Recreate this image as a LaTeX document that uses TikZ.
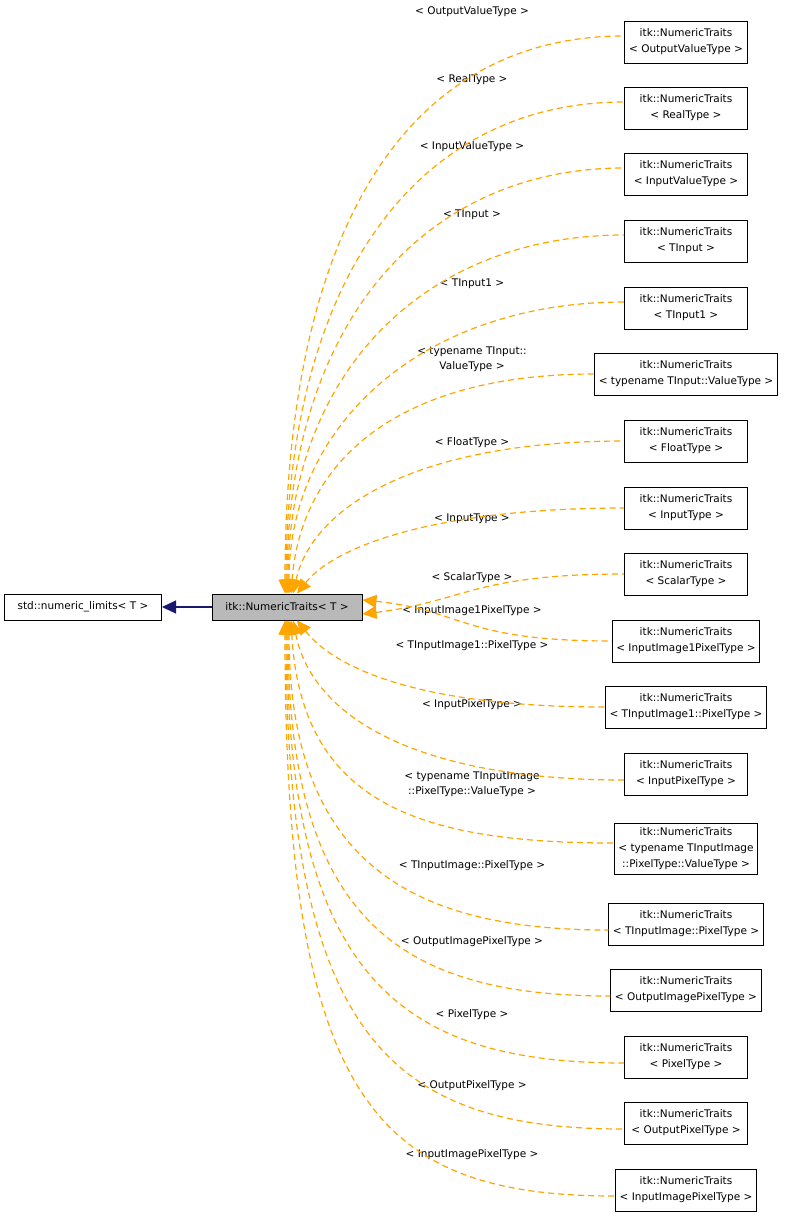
\documentclass[tikz,border=0pt]{standalone}
\usepackage{fontspec}
\setmainfont{DejaVu Sans}
\usetikzlibrary{arrows.meta}
\definecolor{deporange}{HTML}{FFA500}
\definecolor{inhnavy}{HTML}{191970}
\tikzset{
  box/.style={draw, line width=1pt, fill=white, align=center, font=\fontsize{10.5}{16}\selectfont, inner sep=4pt, minimum height=42pt},
  lbl/.style={align=center, font=\fontsize{10.5}{15}\selectfont, inner sep=0pt},
  dep/.style={draw=deporange, dash pattern=on 6pt off 4pt, line width=1.2pt, {Triangle[length=14pt,width=13pt,fill=deporange]}-},
  inh/.style={draw=inhnavy, line width=1.2pt, -{Triangle[length=14pt,width=13pt]}},
}
\begin{document}
\begin{tikzpicture}[x=1pt,y=-1pt]
  \useasboundingbox (0,0) rectangle (797,1218);
  \node[box, fill=gray!55, minimum width=150pt, minimum height=26pt, inner sep=1pt] (main) at (287,607) {itk::NumericTraits< T >};
  \node[box, minimum width=157pt, minimum height=26pt, inner sep=1pt] (std) at (83,607) {std::numeric\_limits< T >};
  \draw[inh] (main) -- (std);
  % instantiations
  \foreach \n/\y/\t/\ly/\l in {
      t1/42/OutputValueType/12/{< OutputValueType >},
      t2/108/RealType/80/{< RealType >},
      t3/174/InputValueType/147/{< InputValueType >},
      t4/241/TInput/215/{< TInput >},
      t5/308/TInput1/284/{< TInput1 >},
      t6/374/typename TInput::ValueType/359/{< typename TInput::\\ValueType >},
      t7/441/FloatType/443/{< FloatType >},
      t8/508/InputType/519/{< InputType >},
      t9/574/ScalarType/578/{< ScalarType >},
      t10/641/InputImage1PixelType/611/{< InputImage1PixelType >},
      t11/707/TInputImage1::PixelType/646/{< TInputImage1::PixelType >},
      t12/774/InputPixelType/705/{< InputPixelType >},
      t14/924/TInputImage::PixelType/866/{< TInputImage::PixelType >},
      t15/990/OutputImagePixelType/942/{< OutputImagePixelType >},
      t16/1057/PixelType/1015/{< PixelType >},
      t17/1123/OutputPixelType/1086/{< OutputPixelType >},
      t18/1190/InputImagePixelType/1155/{< InputImagePixelType >}} {
    \node[box, minimum width=123pt] (\n) at (686,\y) {itk::NumericTraits\\< \t\ >};
    \node[lbl] (l\n) at (472,\ly) {\l};
  }
  \node[box, minimum width=123pt] (t13) at (686,849) {itk::NumericTraits\\< typename TInputImage\\::PixelType::ValueType >};
  \node[lbl] (lt13) at (472,784) {< typename TInputImage\\::PixelType::ValueType >};
  % dependency edges, top
  \draw[dep] ([xshift=-2pt]main.north) .. controls +(0,-360) and +(-220,0) .. ([yshift=6pt]t1.west);
  \draw[dep] ([xshift=-1pt]main.north) .. controls +(0,-310) and +(-210,0) .. ([yshift=6pt]t2.west);
  \draw[dep] (main.north) .. controls +(0,-270) and +(-200,0) .. ([yshift=6pt]t3.west);
  \draw[dep] ([xshift=1pt]main.north) .. controls +(0,-220) and +(-200,0) .. ([yshift=6pt]t4.west);
  \draw[dep] ([xshift=2pt]main.north) .. controls +(0,-170) and +(-200,0) .. ([yshift=6pt]t5.west);
  \draw[dep] ([xshift=4pt]main.north) .. controls +(10,-130) and +(-200,0) .. (t6.west);
  \draw[dep] ([xshift=6pt]main.north) .. controls +(20,-90) and +(-200,0) .. (t7.west);
  \draw[dep] ([xshift=10pt]main.north) .. controls +(40,-50) and +(-180,0) .. (t8.west);
  \draw[dep] ([yshift=-7pt]main.east) .. controls +(100,-12) and +(-150,0) .. (t9.west);
  % dependency edges, bottom
  \draw[dep] ([yshift=7pt]main.east) .. controls +(100,10) and +(-150,0) .. (t10.west);
  \draw[dep] ([xshift=10pt]main.south) .. controls +(40,50) and +(-180,0) .. (t11.west);
  \draw[dep] ([xshift=6pt]main.south) .. controls +(20,100) and +(-200,0) .. ([yshift=-6pt]t12.west);
  \draw[dep] ([xshift=4pt]main.south) .. controls +(10,180) and +(-200,0) .. ([yshift=6pt]t13.west);
  \draw[dep] ([xshift=2pt]main.south) .. controls +(0,240) and +(-200,0) .. ([yshift=-6pt]t14.west);
  \draw[dep] ([xshift=1pt]main.south) .. controls +(0,300) and +(-210,0) .. ([yshift=-6pt]t15.west);
  \draw[dep] (main.south) .. controls +(0,360) and +(-220,0) .. ([yshift=-6pt]t16.west);
  \draw[dep] ([xshift=-1pt]main.south) .. controls +(0,420) and +(-230,0) .. ([yshift=-6pt]t17.west);
  \draw[dep] ([xshift=-2pt]main.south) .. controls +(0,480) and +(-240,0) .. ([yshift=-6pt]t18.west);
\end{tikzpicture}
\end{document}
